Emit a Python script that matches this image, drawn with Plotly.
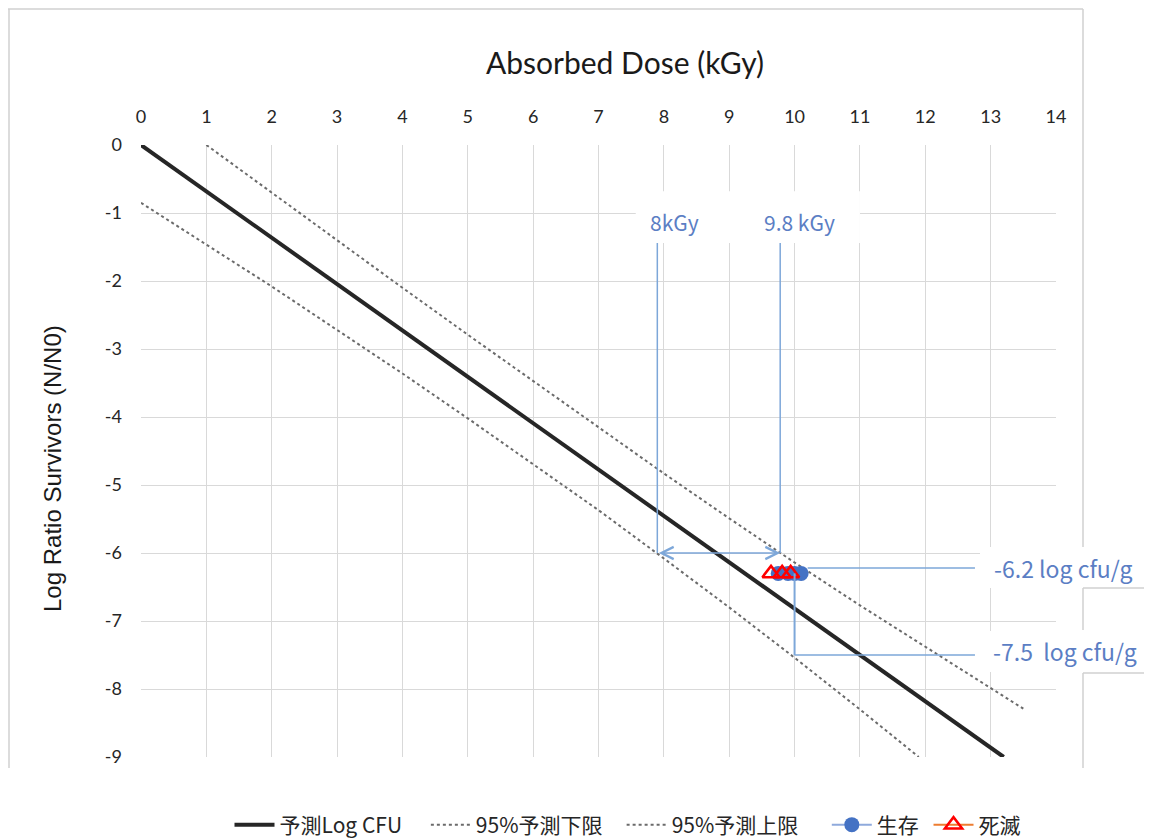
import plotly.graph_objects as go

# ---------------- data ----------------
dose_mean = [0.0, 13.2]
logr_mean = [0.0, -9.0]

dose_lower = [0, 1, 2, 3, 4, 5, 6, 7, 8, 9, 10, 11, 11.9]
logr_lower = [-0.85, -1.46, -2.08, -2.72, -3.36, -4.02, -4.69, -5.37, -6.08, -6.80, -7.54, -8.30, -9.0]

dose_upper = [1, 2, 3, 4, 5, 6, 7, 8, 9, 10, 11, 12, 13, 13.5]
logr_upper = [0.0, -0.70, -1.41, -2.10, -2.79, -3.47, -4.15, -4.83, -5.49, -6.14, -6.77, -7.38, -7.99, -8.29]

alive_dose = [9.75, None, 9.9, None, 10.0, None, 10.1]
alive_logr = [-6.3, None, -6.3, None, -6.3, None, -6.3]
dead_dose = [9.64, None, 9.81, None, 9.94]
dead_logr = [-6.3, None, -6.3, None, -6.3]

x_ticks = list(range(0, 15))
y_ticks = list(range(-9, 1))

series_names = ["予測Log CFU", "95%予測下限", "95%予測上限", "生存", "死滅"]

# reference values used for the guide lines
target_logr = -6.0
dose_at_lower = 7.9      # "8kGy"
dose_at_upper = 9.78     # "9.8 kGy"
measured_logr = -6.22    # "-6.2 log cfu/g"
predicted_logr = -7.5    # "-7.5 log cfu/g"
dose_measured = 10.0
guide_top = -1.44
label_right_dose = 12.76

# ---------------- figure ----------------
# page has an 8px body margin; figure placed at (8, 8)
W, H = 1144, 830
L, R, T, B = 133, 1048, 137, 749


def xp(px):  # page pixel -> paper
    return (px - 8 - L) / (R - L)


def yp(py):
    return (B - (py - 8)) / (B - T)


def pad(name, n):
    return name + "&nbsp;" * n


fig = go.Figure()

fig.add_trace(go.Scatter(x=dose_mean, y=logr_mean, mode="lines", name=pad(series_names[0], 4),
                         line=dict(color="#262626", width=4)))
fig.add_trace(go.Scatter(x=dose_lower, y=logr_lower, mode="lines", name=pad(series_names[1], 3),
                         line=dict(color="#6b6b6b", width=2, dash="dot")))
fig.add_trace(go.Scatter(x=dose_upper, y=logr_upper, mode="lines", name=pad(series_names[2], 5),
                         line=dict(color="#6b6b6b", width=2, dash="dot")))
fig.add_trace(go.Scatter(x=alive_dose, y=alive_logr, mode="lines+markers", name=pad(series_names[3], 1),
                         connectgaps=False,
                         line=dict(color="#8FAADC", width=2),
                         marker=dict(symbol="circle", size=15, color="#4472C4")))
fig.add_trace(go.Scatter(x=dead_dose, y=dead_logr, mode="lines+markers", name=series_names[4],
                         connectgaps=False,
                         line=dict(color="#ED7D31", width=2),
                         marker=dict(symbol="triangle-up-open", size=15, color="#FF0000",
                                     line=dict(width=2.5, color="#FF0000"))))

guide = dict(color="#7DA7D9", width=1.5)
shapes = []
# white box behind top labels
shapes.append(dict(type="rect", xref="x", yref="y", x0=7.57, x1=11.0, y0=-0.68, y1=guide_top,
                   fillcolor="white", line=dict(width=0), layer="above"))
# vertical guides from labels
shapes.append(dict(type="line", xref="x", yref="y", x0=dose_at_lower, x1=dose_at_lower,
                   y0=guide_top, y1=target_logr, line=guide, layer="above"))
shapes.append(dict(type="line", xref="x", yref="y", x0=dose_at_upper, x1=dose_at_upper,
                   y0=guide_top, y1=target_logr, line=guide, layer="above"))
# horizontal guide at measured level
shapes.append(dict(type="line", xref="x", yref="y", x0=10.2, x1=label_right_dose,
                   y0=measured_logr, y1=measured_logr, line=guide, layer="above"))
# vertical from measured to predicted
shapes.append(dict(type="line", xref="x", yref="y", x0=dose_measured, x1=dose_measured,
                   y0=-6.3, y1=predicted_logr, line=dict(color="#7DA7D9", width=2), layer="above"))
shapes.append(dict(type="line", xref="x", yref="y", x0=dose_measured, x1=label_right_dose,
                   y0=predicted_logr, y1=predicted_logr, line=guide, layer="above"))
# white boxes behind right labels
shapes.append(dict(type="rect", xref="paper", yref="paper", x0=xp(980), x1=xp(1152),
                   y0=yp(588), y1=yp(547), fillcolor="white", line=dict(width=0), layer="above"))
shapes.append(dict(type="rect", xref="paper", yref="paper", x0=xp(980), x1=xp(1152),
                   y0=yp(672), y1=yp(631), fillcolor="white", line=dict(width=0), layer="above"))
# outer frame pieces
frame = dict(color="#D0D0D0", width=1.5)
for (x0, y0, x1, y1) in [(8, 9, 1083, 9), (9, 9, 9, 768), (1083, 9, 1083, 547),
                         (1083, 588, 1152, 588), (1083, 588, 1083, 630),
                         (1083, 673, 1152, 673), (1083, 673, 1083, 768)]:
    shapes.append(dict(type="line", xref="paper", yref="paper", x0=xp(x0), x1=xp(x1),
                       y0=yp(y0), y1=yp(y1), line=frame, layer="above"))

annotations = []
# double-headed arrow
annotations.append(dict(x=dose_at_upper, y=target_logr, ax=dose_at_lower, ay=target_logr,
                        xref="x", yref="y", axref="x", ayref="y", text="", showarrow=True,
                        arrowhead=5, arrowside="end+start", arrowsize=1.6, arrowwidth=1.5,
                        arrowcolor="#7DA7D9", standoff=0, startstandoff=0))
lab_color = "#5B7EC4"
lab_font = dict(family="Noto Sans CJK JP, Noto Sans", size=21, color=lab_color)
annotations.append(dict(x=8.17, y=-1.13, xref="x", yref="y", text="8kGy", showarrow=False,
                        xanchor="center", yanchor="middle", font=lab_font))
annotations.append(dict(x=10.08, y=-1.13, xref="x", yref="y", text="9.8 kGy", showarrow=False,
                        xanchor="center", yanchor="middle", font=lab_font))
annotations.append(dict(x=xp(992), y=yp(568), xref="paper", yref="paper", xanchor="left",
                        yanchor="middle", text="-6.2 log cfu/g", showarrow=False,
                        font=dict(family="Noto Sans CJK JP, Noto Sans", size=23, color=lab_color)))
annotations.append(dict(x=xp(991), y=yp(651), xref="paper", yref="paper", xanchor="left",
                        yanchor="middle", text="-7.5&nbsp;&nbsp;log cfu/g", showarrow=False,
                        font=dict(family="Noto Sans CJK JP, Noto Sans", size=23, color=lab_color)))
# axis titles
annotations.append(dict(x=xp(625), y=yp(62), xref="paper", yref="paper",
                        xanchor="center", yanchor="middle",
                        text="Absorbed Dose (kGy)", showarrow=False,
                        font=dict(family="Lato, Noto Sans", size=30, color="#1a1a1a")))
annotations.append(dict(x=xp(52), y=yp(469), xref="paper", yref="paper", textangle=-90,
                        xanchor="center", yanchor="middle",
                        text="Log Ratio Survivors (N/N0)", showarrow=False,
                        font=dict(family="Liberation Sans, Arial", size=24, color="#1a1a1a")))

tick_font = dict(family="Lato, Noto Sans", size=18, color="#262626")
fig.update_layout(
    width=W, height=H, autosize=False,
    margin=dict(l=L, r=W - R, t=T, b=H - B, pad=0, autoexpand=False),
    paper_bgcolor="white", plot_bgcolor="white",
    showlegend=True,
    legend=dict(orientation="h", x=xp(628), y=(838 - 825) / H, xanchor="center", yanchor="middle",
                yref="container",
                font=dict(family="Noto Sans CJK JP", size=21, color="#262626"),
                itemwidth=40, tracegroupgap=0),
    xaxis=dict(range=[0, 14], side="top", tickvals=x_ticks, ticktext=[str(v) for v in x_ticks],
               showgrid=True, gridcolor="#D9D9D9", gridwidth=1, zeroline=False, showline=False,
               ticks="", tickfont=tick_font, ticklabelstandoff=17, fixedrange=True),
    yaxis=dict(range=[-9, 0], tickvals=y_ticks, ticktext=[str(v) for v in y_ticks],
               showgrid=True, gridcolor="#D9D9D9", gridwidth=1, zeroline=False, showline=False,
               ticks="", tickfont=tick_font, ticklabelstandoff=18, fixedrange=True),
    shapes=shapes,
    annotations=annotations,
)

fig.write_html("out.html")
